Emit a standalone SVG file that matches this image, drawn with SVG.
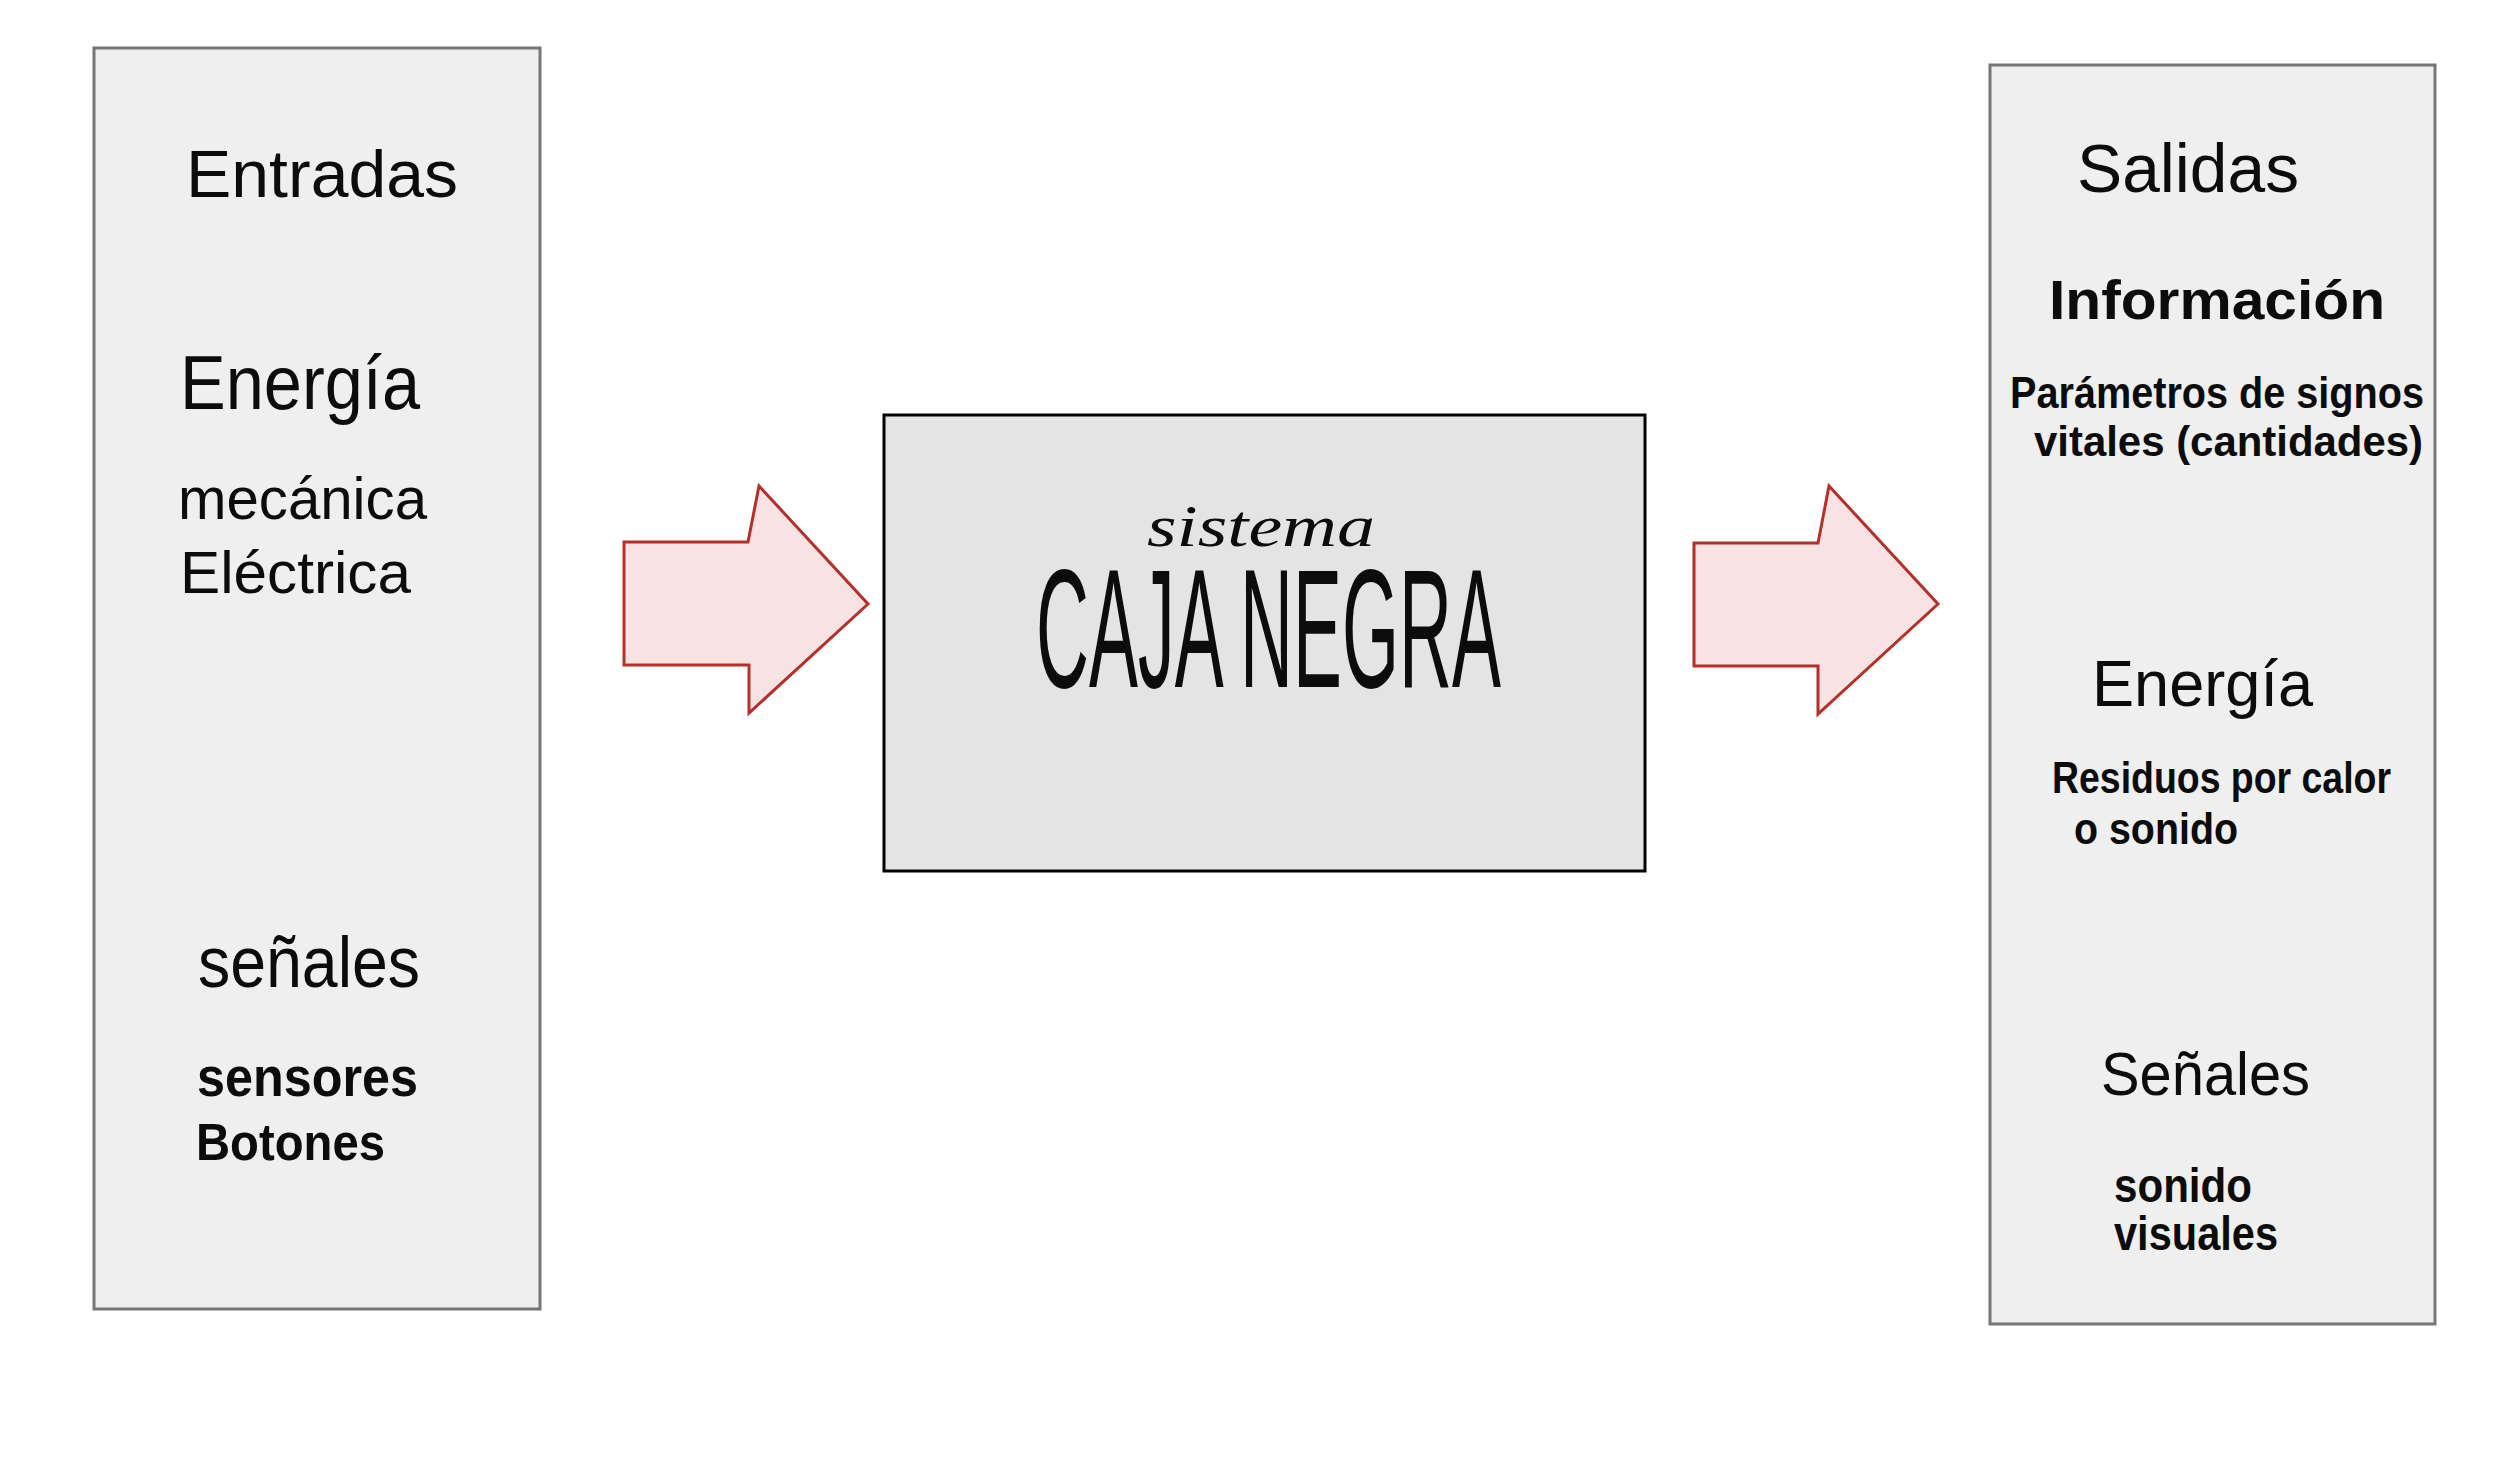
<svg xmlns="http://www.w3.org/2000/svg" width="2496" height="1473" viewBox="0 0 2496 1473">
<style>
.side{fill:#efefef;stroke:#767676;stroke-width:3}
.core{fill:#e4e4e4;stroke:#000;stroke-width:3}
.arrow{fill:#f7e3e3;stroke:#b3302b;stroke-width:3;stroke-linejoin:miter}
text{font-family:"Liberation Sans","DejaVu Sans",sans-serif;fill:#0c0c0c}
.b{font-weight:bold}
</style>
<rect width="2496" height="1473" fill="#fff"/>
<g id="entradas">
<rect class="side" x="94" y="48" width="446" height="1261"/>
<text x="186" y="197" font-size="66" textLength="272" lengthAdjust="spacingAndGlyphs">Entradas</text>
<text x="180" y="409" font-size="76" textLength="240" lengthAdjust="spacingAndGlyphs">Energía</text>
<text x="178" y="519" font-size="60" textLength="249" lengthAdjust="spacingAndGlyphs">mecánica</text>
<text x="180" y="593" font-size="60" textLength="231" lengthAdjust="spacingAndGlyphs">Eléctrica</text>
<text x="198" y="987" font-size="72" textLength="222" lengthAdjust="spacingAndGlyphs">señales</text>
<text x="197" y="1096" font-size="56" textLength="221" lengthAdjust="spacingAndGlyphs" class="b">sensores</text>
<text x="196" y="1160" font-size="52" textLength="189" lengthAdjust="spacingAndGlyphs" class="b">Botones</text>
</g>
<g id="caja-negra">
<rect class="core" x="884" y="415" width="761" height="456"/>
<text x="1147" y="546" font-size="60" font-style="italic" textLength="228" lengthAdjust="spacingAndGlyphs" style="font-family:'Liberation Serif',serif">sistema</text>
<text x="1036" y="687" font-size="168" textLength="465" lengthAdjust="spacingAndGlyphs">CAJA NEGRA</text>
</g>
<g id="salidas">
<rect class="side" x="1990" y="65" width="445" height="1259"/>
<text x="2077" y="192" font-size="68" textLength="222" lengthAdjust="spacingAndGlyphs">Salidas</text>
<text x="2049" y="319" font-size="56" textLength="336" lengthAdjust="spacingAndGlyphs" class="b">Información</text>
<text x="2010" y="408" font-size="44" textLength="414" lengthAdjust="spacingAndGlyphs" class="b">Parámetros de signos</text>
<text x="2034" y="456" font-size="42" textLength="389" lengthAdjust="spacingAndGlyphs" class="b">vitales (cantidades)</text>
<text x="2092" y="706" font-size="64" textLength="221" lengthAdjust="spacingAndGlyphs">Energía</text>
<text x="2052" y="793" font-size="44" textLength="339" lengthAdjust="spacingAndGlyphs" class="b">Residuos por calor</text>
<text x="2074" y="844" font-size="44" textLength="164" lengthAdjust="spacingAndGlyphs" class="b">o sonido</text>
<text x="2101" y="1095" font-size="62" textLength="209" lengthAdjust="spacingAndGlyphs">Señales</text>
<text x="2114" y="1202" font-size="48" textLength="138" lengthAdjust="spacingAndGlyphs" class="b">sonido</text>
<text x="2114" y="1250" font-size="48" textLength="164" lengthAdjust="spacingAndGlyphs" class="b">visuales</text>
</g>
<g id="connectors">
<polygon class="arrow" points="624,542 748,542 759,486 868,604 749,713 749,665 624,665"/>
<polygon class="arrow" points="1694,543 1818,543 1829,486 1938,604 1818,714 1818,666 1694,666"/>
</g>
</svg>
